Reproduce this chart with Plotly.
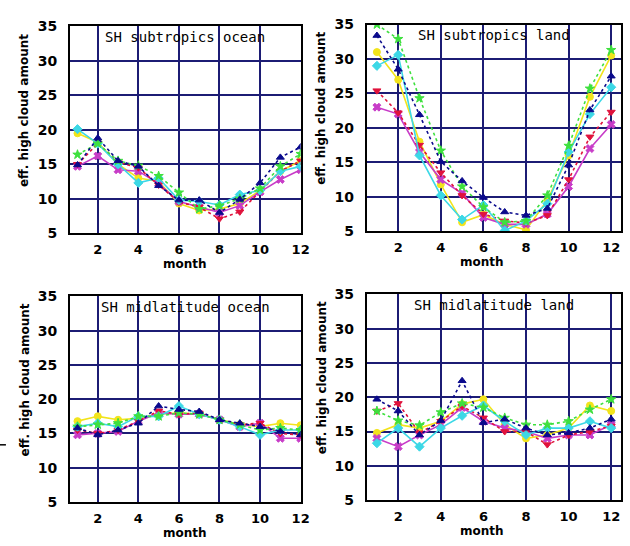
import plotly.graph_objects as go

months = list(range(1, 13))
x_ticks = [2, 4, 6, 8, 10, 12]
y_ticks = [5, 10, 15, 20, 25, 30, 35]

panel_titles = ["SH subtropics ocean", "SH subtropics land",
                "SH midlatitude ocean", "SH midlatitude land"]

# series order: yellow, magenta, red, cyan, green, navy
series_names = ["yellow", "magenta", "red", "cyan", "green", "navy"]

# Panel 1: SH subtropics ocean
p1_navy = [14.9, 18.8, 15.5, 14.7, 11.9, 9.8, 9.8, 8.0, 9.9, 12.3, 16.0, 17.5]
p1_red = [15.0, 18.0, 15.3, 14.5, 12.0, 9.5, 8.8, 7.1, 8.1, 11.0, 14.0, 15.5]
p1_magenta = [14.7, 16.2, 14.2, 14.0, 12.2, 9.6, 8.8, 8.0, 9.0, 11.0, 12.8, 14.2]
p1_yellow = [19.5, 18.2, 15.0, 13.0, 12.5, 9.3, 8.3, 8.5, 9.3, 11.2, 14.0, 15.5]
p1_green = [16.4, 18.0, 15.5, 14.8, 13.3, 10.9, 8.5, 9.0, 10.0, 11.5, 14.7, 16.5]
p1_cyan = [20.1, 18.0, 15.0, 12.3, 13.0, 9.8, 9.6, 9.1, 10.6, 11.2, 14.0, 14.7]

# Panel 2: SH subtropics land
p2_navy = [33.4, 28.5, 21.9, 15.1, 12.3, 9.9, 7.8, 7.3, 8.3, 14.6, 22.6, 27.5]
p2_red = [25.4, 22.2, 17.5, 13.5, 10.2, 7.5, 6.5, 6.2, 7.3, 12.5, 18.7, 22.3]
p2_magenta = [23.0, 22.0, 16.5, 12.5, 10.5, 7.0, 6.0, 6.0, 7.5, 11.5, 17.0, 20.5]
p2_yellow = [31.0, 27.0, 18.0, 11.8, 6.3, 7.4, 6.0, 5.2, 9.5, 16.0, 24.5, 30.5]
p2_green = [35.0, 32.9, 24.3, 16.7, 11.5, 8.5, 6.3, 6.5, 10.2, 17.4, 25.7, 31.3]
p2_cyan = [29.0, 30.6, 16.0, 10.2, 6.7, 8.8, 5.1, 6.5, 9.0, 16.5, 22.0, 25.9]

# Panel 3: SH midlatitude ocean
p3_navy = [15.8, 14.8, 15.5, 16.5, 19.0, 18.5, 18.2, 17.0, 16.5, 16.0, 15.3, 14.8]
p3_red = [15.5, 15.0, 15.5, 16.8, 18.3, 17.8, 18.0, 17.0, 16.3, 16.5, 15.0, 14.8]
p3_magenta = [14.8, 15.0, 15.3, 16.8, 18.0, 17.8, 17.8, 17.0, 16.0, 16.5, 14.3, 14.3]
p3_yellow = [16.8, 17.5, 17.0, 17.2, 17.8, 18.0, 17.8, 17.0, 16.3, 16.0, 16.5, 16.2]
p3_green = [16.0, 16.3, 16.5, 17.5, 17.5, 18.0, 17.8, 17.0, 16.3, 15.5, 15.8, 15.5]
p3_cyan = [16.0, 16.5, 16.0, 17.5, 17.5, 19.0, 17.8, 17.0, 16.0, 14.8, 15.5, 15.5]

# Panel 4: SH midlatitude land
p4_navy = [19.7, 18.0, 14.5, 16.6, 22.4, 16.3, 16.8, 15.5, 14.5, 14.8, 15.5, 16.8]
p4_red = [18.0, 19.1, 14.8, 16.5, 18.7, 17.0, 15.0, 15.0, 13.1, 14.5, 15.0, 15.8]
p4_magenta = [14.0, 12.8, 14.5, 16.0, 18.5, 16.5, 15.5, 15.0, 14.0, 14.5, 14.5, 16.0]
p4_yellow = [14.8, 16.0, 15.5, 16.5, 19.0, 19.7, 16.0, 14.0, 14.5, 15.5, 18.8, 18.0]
p4_green = [18.0, 16.6, 15.9, 17.8, 19.1, 18.5, 17.0, 16.0, 16.0, 16.5, 18.2, 19.7]
p4_cyan = [13.3, 15.5, 12.8, 15.5, 17.3, 18.8, 16.5, 14.5, 15.5, 15.5, 16.5, 15.5]

panels = [
    dict(yellow=p1_yellow, magenta=p1_magenta, red=p1_red, cyan=p1_cyan, green=p1_green, navy=p1_navy),
    dict(yellow=p2_yellow, magenta=p2_magenta, red=p2_red, cyan=p2_cyan, green=p2_green, navy=p2_navy),
    dict(yellow=p3_yellow, magenta=p3_magenta, red=p3_red, cyan=p3_cyan, green=p3_green, navy=p3_navy),
    dict(yellow=p4_yellow, magenta=p4_magenta, red=p4_red, cyan=p4_cyan, green=p4_green, navy=p4_navy),
]

styles = {
    "yellow": dict(color="#f2e41c", symbol="circle", dash="solid"),
    "magenta": dict(color="#c83cc8", symbol="x", dash="solid"),
    "red": dict(color="#e0123c", symbol="triangle-down", dash="dot"),
    "cyan": dict(color="#3cd8e6", symbol="diamond", dash="solid"),
    "green": dict(color="#3ee03e", symbol="star", dash="dot"),
    "navy": dict(color="#0a0a8c", symbol="triangle-up", dash="dot"),
}

W, H = 630, 546
# pixel boxes (left, right, top, bottom)
boxes = [(71, 305, 19, 232), (372, 630, 17, 230), (71, 305, 297, 509), (372, 630, 295, 507)]
x_ranges = [[0.63, 12.0], [0.52, 12.46], [0.63, 12.0], [0.52, 12.46]]

fig = go.Figure()
font_fam = "DejaVu Sans"
layout = dict(width=W, height=H, margin=dict(l=0, r=0, t=0, b=0),
              paper_bgcolor="white", plot_bgcolor="white", showlegend=False)
annotations = []
for i, (box, data) in enumerate(zip(boxes, panels)):
    n = "" if i == 0 else str(i + 1)
    l, r, t, b = box
    layout["xaxis" + n] = dict(
        domain=[l / W, r / W], range=x_ranges[i], tickvals=x_ticks,
        showgrid=True, gridcolor="#1c1c74", gridwidth=2, zeroline=False,
        showline=True, linecolor="black", linewidth=2, mirror=True,
        ticks="", ticklabelstandoff=3,
        tickfont=dict(family=font_fam, size=13, color="black", weight="bold"),
        anchor="y" + n)
    layout["yaxis" + n] = dict(
        domain=[(H - b) / H, (H - t) / H], range=[5, 35], tickvals=y_ticks,
        showgrid=True, gridcolor="#1c1c74", gridwidth=2, zeroline=False,
        showline=True, linecolor="black", linewidth=2, mirror=True,
        ticks="", ticklabelstandoff=8,
        tickfont=dict(family=font_fam, size=14, color="black", weight="bold"),
        anchor="x" + n)
    for name in series_names:
        st = styles[name]
        fig.add_trace(go.Scatter(
            x=months, y=data[name], mode="lines+markers",
            line=dict(color=st["color"], width=1.6, dash=st["dash"]),
            marker=dict(color=st["color"], symbol=st["symbol"], size=7,
                        line=dict(width=1, color=st["color"])),
            xaxis="x" + n, yaxis="y" + n, name=name))
    # panel title
    annotations.append(dict(text=panel_titles[i], xref="paper", yref="paper",
                            x=(l + r) / 2 / W, y=(H - (t + 11)) / H, showarrow=False,
                            xanchor="center", yanchor="middle",
                            font=dict(family="DejaVu Sans Mono", size=14, color="black")))
    # y title
    annotations.append(dict(text="eff. high cloud amount", xref="paper", yref="paper",
                            x=(l - 46) / W, y=(H - (t + b) / 2 + 20) / H, showarrow=False,
                            textangle=-90, xanchor="center", yanchor="middle",
                            font=dict(family=font_fam, size=12, color="black", weight="bold")))
    # x title
    annotations.append(dict(text="month", xref="paper", yref="paper",
                            x=((l + min(r, l + 234)) / 2) / W, y=(H - (b + 32)) / H,
                            showarrow=False, xanchor="center", yanchor="middle",
                            font=dict(family=font_fam, size=12, color="black", weight="bold")))

layout["annotations"] = annotations
layout["shapes"] = [dict(type="line", xref="paper", yref="paper",
                         x0=0, x1=6 / W, y0=(H - 450) / H, y1=(H - 450) / H,
                         line=dict(color="black", width=1.5))]
fig.update_layout(**layout)
fig.write_html("out.html")
